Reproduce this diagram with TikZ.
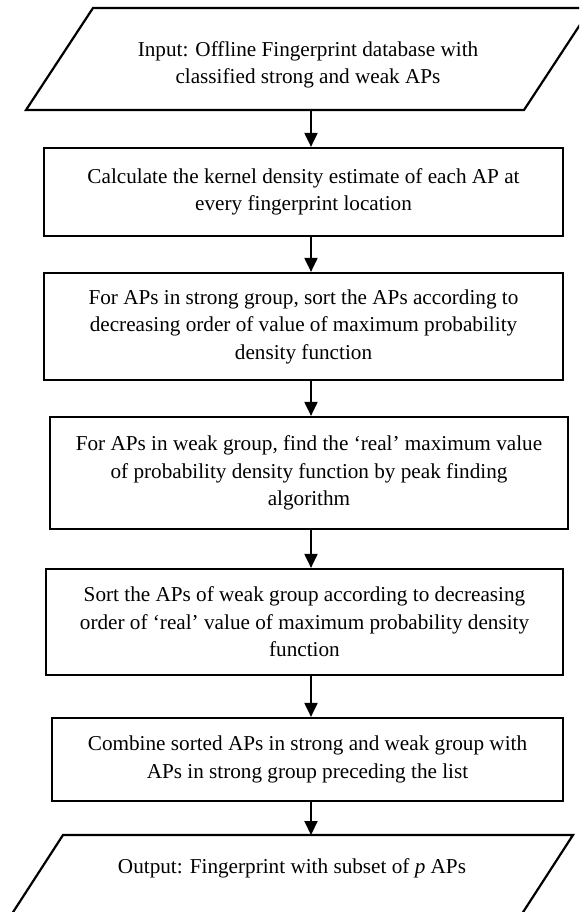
\documentclass[tikz,border=0pt]{standalone}
\usepackage{fontspec}
\setmainfont{Liberation Serif}
\usetikzlibrary{arrows.meta}
\begin{document}
\begin{tikzpicture}[x=1pt,y=-1pt,
  stepbox/.style={draw, line width=2.2pt, align=center, inner sep=0pt,
    font=\fontsize{21.2}{27.5}\selectfont},
  iotext/.style={align=center, inner sep=0pt, font=\fontsize{21.2}{27.5}\selectfont},
  ioshape/.style={draw, line width=2.2pt, line join=miter},
  arr/.style={line width=2pt, -{Triangle[length=14pt,width=13pt]}}]
\useasboundingbox (0,0) rectangle (579,912);
\fill[white] (0,0) rectangle (579,912);
\clip (0,0) rectangle (579,912);

% input parallelogram
\draw[ioshape] (93,8) -- (591,8) -- (524,110) -- (26,110) -- cycle;
\node[iotext] (in) at (308,65) {Input: Offline Fingerprint database with\\classified strong and weak APs};
\coordinate (inb) at (311,110);

% processing steps
\node[stepbox, minimum width=519pt, minimum height=88pt] (b1) at (303.5,192)
  {Calculate the kernel density estimate of each AP at\\every fingerprint location};
\node[stepbox, minimum width=519pt, minimum height=107pt] (b2) at (303.5,326.5)
  {For APs in strong group, sort the APs according to\\decreasing order of value of maximum probability\\density function};
\node[stepbox, minimum width=518pt, minimum height=112pt] (b3) at (309,473)
  {For APs in weak group, find the ‘real’ maximum value\\of probability density function by peak finding\\algorithm};
\node[stepbox, minimum width=517pt, minimum height=106pt] (b4) at (304.5,622)
  {Sort the APs of weak group according to decreasing\\order of ‘real’ value of maximum probability density\\function};
\node[stepbox, minimum width=511pt, minimum height=83pt] (b5) at (307.5,759.5)
  {Combine sorted APs in strong and weak group with\\APs in strong group preceding the list};

% output parallelogram
\draw[ioshape] (63,835) -- (573,835) -- (505,940) -- (-5,940) -- cycle;
\node[iotext] (out) at (292,868) {Output: Fingerprint with subset of \textit{p} APs};
\coordinate (outt) at (311,835);

% connectors
\draw[arr] (inb) -- (inb |- b1.north);
\draw[arr] (b1.south -| inb) -- (b2.north -| inb);
\draw[arr] (b2.south -| inb) -- (b3.north -| inb);
\draw[arr] (b3.south -| inb) -- (b4.north -| inb);
\draw[arr] (b4.south -| inb) -- (b5.north -| inb);
\draw[arr] (b5.south -| inb) -- (outt);
\end{tikzpicture}
\end{document}
